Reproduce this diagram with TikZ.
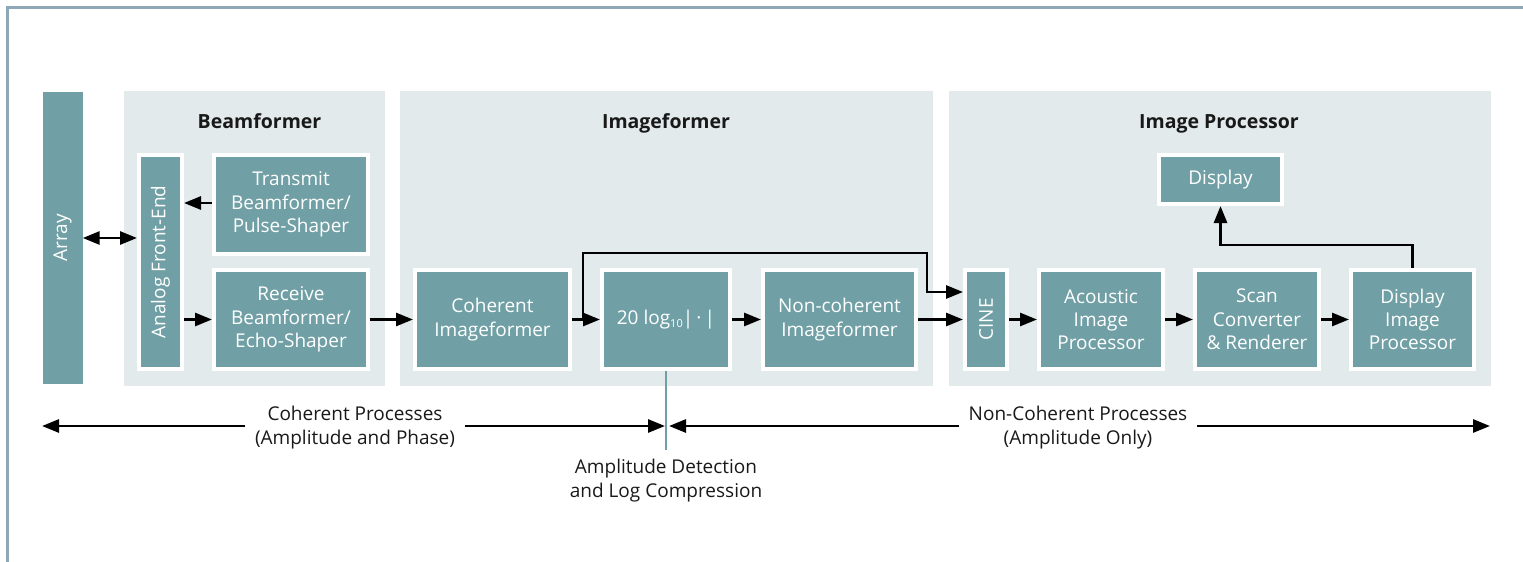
\documentclass[tikz,border=0pt]{standalone}
\usepackage{fontspec}
\setmainfont{Open Sans}
\usetikzlibrary{arrows.meta,calc}
\definecolor{tealbox}{HTML}{70A0A5}
\definecolor{panelbg}{HTML}{E2EAEB}
\definecolor{framec}{HTML}{8FA8B8}
\begin{document}
\begin{tikzpicture}[x=1pt,y=-1pt,
  box/.style={fill=tealbox, draw=white, line width=4pt, text=white, align=center,
    inner sep=0pt, font=\fontsize{19}{23.3}\selectfont},
  rlabel/.style={label={[rotate=90,text=white,font=\fontsize{19}{23.3}\selectfont]center:#1}},
  paneltitle/.style={font=\fontsize{19.5}{23}\selectfont\bfseries, text=black!90, anchor=base},
  conn/.style={line width=2.8pt, -{Triangle[length=17pt,width=13pt]}},
  dconn/.style={line width=2.8pt, {Triangle[length=17pt,width=13pt]}-{Triangle[length=17pt,width=13pt]}},
  note/.style={font=\fontsize{19}{24}\selectfont, align=center, text=black!90},
]
\useasboundingbox (0,0) rectangle (1523,562);
% frame
\draw[framec, line width=2.5pt] (7.5,562) -- (7.5,7.5) -- (1523,7.5);
% panels
\fill[panelbg] (124,91) rectangle (385,386);
\fill[panelbg] (400,91) rectangle (933,386);
\fill[panelbg] (949,91) rectangle (1491,386);
\node[paneltitle] (t1) at (259.5,128) {Beamformer};
\node[paneltitle] (t2) at (666,128) {Imageformer};
\node[paneltitle] (t3) at (1219,128) {Image Processor};
% array
\node[fill=tealbox, minimum width=40pt, minimum height=292pt, inner sep=0pt, rlabel=Array] (array) at (62.5,238) {};
% boxes
\node[box, minimum width=43pt, minimum height=214pt, rlabel=Analog Front-End] (afe) at (160.5,262) {};
\node[box, minimum width=154pt, minimum height=99pt] (tx) at (291,204.5) {Transmit\\Beamformer/\\Pulse-Shaper};
\node[box, minimum width=154pt, minimum height=99pt] (rx) at (291,319.5) {Receive\\Beamformer/\\Echo-Shaper};
\node[box, minimum width=155pt, minimum height=99pt] (coh) at (492.5,319.5) {Coherent\\Imageformer};
\node[box, minimum width=128pt, minimum height=99pt] (logb) at (666,319.5) {20 log\raisebox{-0.35ex}{\fontsize{11}{11}\selectfont 10}|\,·\,|};
\node[box, minimum width=153pt, minimum height=99pt] (ncoh) at (839.5,319.5) {Non-coherent\\Imageformer};
\node[box, minimum width=42pt, minimum height=99pt, rlabel=CINE] (cine) at (986,319.5) {};
\node[box, minimum width=124pt, minimum height=99pt] (aip) at (1101,319.5) {Acoustic\\Image\\Processor};
\node[box, minimum width=124pt, minimum height=99pt] (scan) at (1257,319.5) {Scan\\Converter\\\& Renderer};
\node[box, minimum width=123pt, minimum height=99pt] (dip) at (1412.5,319.5) {Display\\Image\\Processor};
\node[box, minimum width=123pt, minimum height=49pt] (disp) at (1220.5,179.5) {Display};
% connectors
\draw[dconn] (array.east) -- (array.east -| afe.west);
\draw[conn] (tx.west |- 0,203) -- (afe.east |- 0,203);
\draw[conn] (afe.east |- rx.west) -- (rx.west);
\draw[conn] (rx.east) -- (coh.west);
\draw[conn] (coh.east) -- (logb.west);
\draw[conn] (logb.east) -- (ncoh.west);
\draw[conn] (ncoh.east) -- (cine.west);
\draw[conn] (cine.east) -- (aip.west);
\draw[conn] (aip.east) -- (scan.west);
\draw[conn] (scan.east) -- (dip.west);
\coordinate (bp) at (583,319.5);
\coordinate (bp2) at (927,253);
\coordinate (cin2) at (cine.west |- 0,292);
\draw[conn] (bp) |- (bp2) |- (cin2);
\coordinate (dj) at (disp.south |- 0,245);
\draw[conn] (dip.north) |- (dj) -- (disp.south);
% detection marker
\coordinate (dend) at (logb.south |- 0,450);
\draw[tealbox, line width=2.5pt] (logb.south) -- (dend);
\node[note] (det) at (666,480.5) {Amplitude Detection\\and Log Compression};
% bottom arrows
\coordinate (cl) at (42,426);
\coordinate (cm) at (665,426);
\coordinate (nm) at (669,426);
\coordinate (nr) at (1490,426);
\draw[dconn] (cl) -- (cm);
\draw[dconn] (nm) -- (nr);
\node[note, fill=white, inner xsep=10pt, inner ysep=0pt] (coh-lbl) at (355,428) {Coherent Processes\\(Amplitude and Phase)};
\node[note, fill=white, inner xsep=10pt, inner ysep=0pt] (ncoh-lbl) at (1078,428) {Non-Coherent Processes\\(Amplitude Only)};
\end{tikzpicture}
\end{document}
